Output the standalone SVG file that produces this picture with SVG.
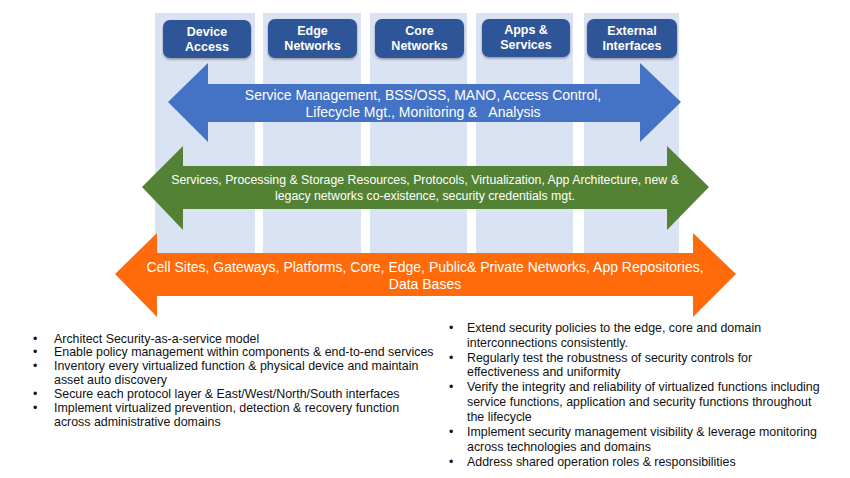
<svg xmlns="http://www.w3.org/2000/svg" width="850" height="478" viewBox="0 0 850 478">
<defs>
<filter id="sh" x="-10%" y="-10%" width="120%" height="130%"><feDropShadow dx="0" dy="1.5" stdDeviation="1.2" flood-color="#000" flood-opacity="0.35"/></filter>
<style>
.col{fill:#DAE3F3}
.hdr{fill:#2E5597;filter:url(#sh)}
.ht{font-family:"Liberation Sans",Arial,sans-serif;font-weight:bold;font-size:12.5px;fill:#fff;text-anchor:middle}
.at{font-family:"Liberation Sans",Arial,sans-serif;fill:#fff;text-anchor:middle}
.bt{font-family:"Liberation Sans",Arial,sans-serif;font-size:12.4px;fill:#111}
</style>
</defs>
<rect width="850" height="478" fill="#fff"/>
<g id="columns">
<rect class="col" x="155" y="13" width="100" height="241"/>
<rect class="col" x="263" y="13" width="98" height="241"/>
<rect class="col" x="370" y="13" width="97" height="241"/>
<rect class="col" x="476" y="13" width="97" height="241"/>
<rect class="col" x="584" y="13" width="95" height="241"/>
</g>
<g id="device-access"><rect class="hdr" x="163" y="20" width="88" height="38" rx="7"/><text class="ht" x="207" y="36">Device</text><text class="ht" x="207" y="51">Access</text></g>
<g id="edge-networks"><rect class="hdr" x="268" y="19" width="89" height="39" rx="7"/><text class="ht" x="312.5" y="35">Edge</text><text class="ht" x="312.5" y="50">Networks</text></g>
<g id="core-networks"><rect class="hdr" x="375" y="19" width="89" height="39" rx="7"/><text class="ht" x="419.5" y="35">Core</text><text class="ht" x="419.5" y="50">Networks</text></g>
<g id="apps-services"><rect class="hdr" x="482" y="19" width="88" height="38" rx="7"/><text class="ht" x="526" y="34">Apps &amp;</text><text class="ht" x="526" y="49">Services</text></g>
<g id="external-interfaces"><rect class="hdr" x="587" y="19" width="90" height="39" rx="7"/><text class="ht" x="632" y="35">External</text><text class="ht" x="632" y="50">Interfaces</text></g>
<g id="connectors">
<g id="blue-arrow">
<polygon fill="#4472C4" points="168,102 208,63 208,84 640,84 640,63 681,102 640,142 640,122 208,122 208,142"/>
<text class="at" x="423" y="99.5" font-size="14">Service Management, BSS/OSS, MANO, Access Control,</text>
<text class="at" x="423" y="116.5" font-size="14" xml:space="preserve">Lifecycle Mgt., Monitoring &amp;   Analysis</text>
</g>
<g id="green-arrow">
<polygon fill="#548235" points="142,187 183,146 183,166 667,166 667,146 709,187 667,230 667,209 183,209 183,230"/>
<text class="at" x="425" y="184" font-size="12.3">Services, Processing &amp; Storage Resources, Protocols, Virtualization, App Architecture, new &amp;</text>
<text class="at" x="425" y="200" font-size="12.3">legacy networks co-existence, security credentials mgt.</text>
</g>
<g id="orange-arrow">
<polygon fill="#FF6A0A" points="115,274 157,233 157,253 693,253 693,233 736,274 693,317 693,296 157,296 157,317"/>
<text class="at" x="425" y="272" font-size="14">Cell Sites, Gateways, Platforms, Core, Edge, Public&amp; Private Networks, App Repositories,</text>
<text class="at" x="425" y="289" font-size="14">Data Bases</text>
</g>
</g>
<g id="left-bullets" class="bt">
<text x="33" y="342.5">•</text><text x="54" y="342.5">Architect Security-as-a-service model</text>
<text x="33" y="356.4">•</text><text x="54" y="356.4">Enable policy management within components &amp; end-to-end services</text>
<text x="33" y="370.3">•</text><text x="54" y="370.3">Inventory every virtualized function &amp; physical device and maintain</text>
<text x="54" y="384.2">asset auto discovery</text>
<text x="33" y="398.1">•</text><text x="54" y="398.1">Secure each protocol layer &amp; East/West/North/South interfaces</text>
<text x="33" y="412">•</text><text x="54" y="412">Implement virtualized prevention, detection &amp; recovery function</text>
<text x="54" y="425.9">across administrative domains</text>
</g>
<g id="right-bullets" class="bt">
<text x="449" y="332">•</text><text x="467" y="332">Extend security policies to the edge, core and domain</text>
<text x="467" y="347">interconnections consistently.</text>
<text x="449" y="362">•</text><text x="467" y="362">Regularly test the robustness of security controls for</text>
<text x="467" y="376">effectiveness and uniformity</text>
<text x="449" y="391">•</text><text x="467" y="391">Verify the integrity and reliability of virtualized functions including</text>
<text x="467" y="406">service functions, application and security functions throughout</text>
<text x="467" y="421">the lifecycle</text>
<text x="449" y="436">•</text><text x="467" y="436">Implement security management visibility &amp; leverage monitoring</text>
<text x="467" y="451">across technologies and domains</text>
<text x="449" y="466">•</text><text x="467" y="466">Address shared operation roles &amp; responsibilities</text>
</g>
</svg>
